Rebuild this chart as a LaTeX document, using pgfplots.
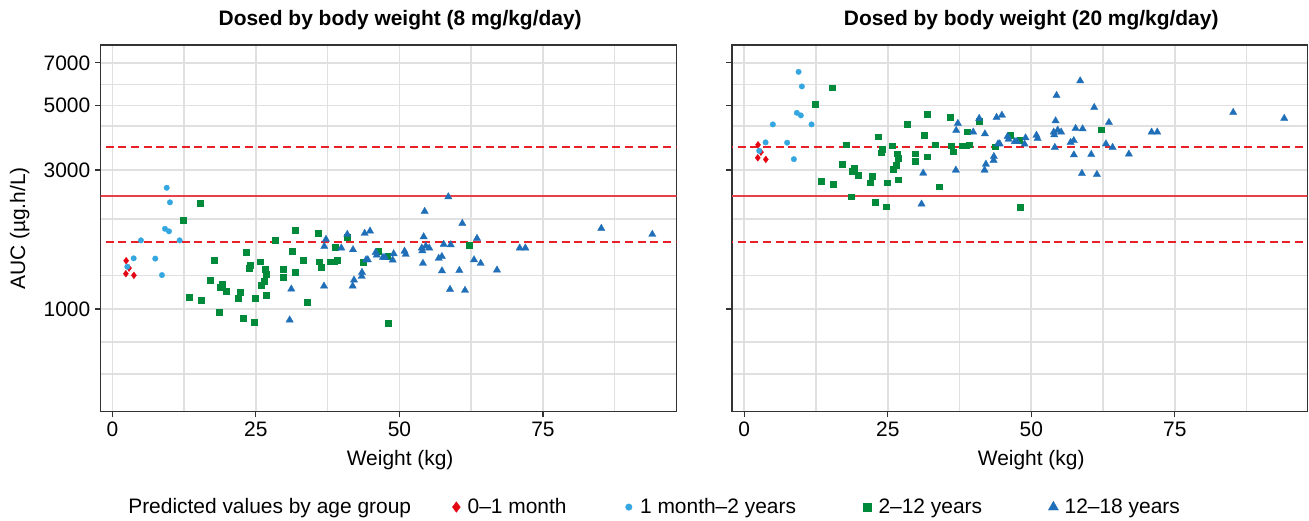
\documentclass[border=0pt]{standalone}
\usepackage{pgfplots}
\pgfplotsset{compat=1.18}
\usepackage{pgfplotstable}
\usepackage{fontspec}
\setmainfont{Liberation Sans}

\definecolor{cRed}{RGB}{227,6,19}
\definecolor{cLblue}{RGB}{53,167,224}
\definecolor{cGreen}{RGB}{0,138,58}
\definecolor{cBlue}{RGB}{31,110,184}
\definecolor{refRed}{RGB}{232,32,40}
\definecolor{refSolid}{RGB}{233,64,76}
\definecolor{gridc}{RGB}{224,224,224}
\definecolor{axc}{RGB}{51,51,51}

\pgfplotstableread{
x a b
2.40 1465 3663
2.90 1382 3455
2.35 1322 3305
3.75 1305 3263
}\tRed

\pgfplotstableread{
x a b
9.46 2608 6520
10.03 2324 5810
9.16 1886 4715
9.86 1848 4620
4.98 1721 4303
11.72 1721 4303
3.71 1493 3733
7.47 1490 3725
2.60 1397 3493
8.64 1308 3270
}\tLblue

\pgfplotstableread{
x a b
15.31 2305 5763
12.35 2016 5040
31.87 1863 4658
28.38 1721 4303
23.33 1565 3913
31.34 1578 3945
17.75 1469 3673
25.77 1456 3640
24.02 1413 3533
23.85 1379 3448
26.64 1368 3420
29.77 1368 3420
31.87 1336 3340
26.81 1319 3298
29.72 1285 3213
17.06 1255 3138
26.46 1245 3113
19.15 1216 3040
25.94 1207 3018
18.80 1187 2968
19.84 1150 2875
22.28 1141 2853
26.81 1114 2785
13.40 1097 2743
21.93 1088 2720
24.90 1088 2720
15.49 1071 2678
18.63 974 2435
22.80 929 2323
24.72 900 2250
35.87 1819 4548
40.92 1767 4418
38.83 1628 4070
46.39 1578 3945
47.96 1520 3800
33.26 1469 3673
36.04 1456 3640
37.90 1456 3640
38.70 1456 3640
39.20 1469 3673
43.71 1446 3615
36.39 1390 3475
62.18 1654 4135
33.96 1054 2635
48.07 893 2233
}\tGreen

\pgfplotstableread{
x a b
31.17 1171 2928
30.88 917 2293
58.52 2429 6073
54.40 2164 5410
60.96 1968 4920
44.88 1852 4630
43.95 1819 4548
40.92 1805 4513
54.23 1771 4428
37.21 1735 4338
63.52 1748 4370
36.92 1641 4103
39.88 1620 4050
41.92 1598 3995
57.72 1667 4168
58.94 1662 4155
53.90 1620 4050
54.60 1645 4113
55.20 1620 4050
54.00 1585 3963
45.87 1565 3913
46.05 1532 3830
44.20 1476 3690
44.50 1476 3690
47.14 1504 3760
47.50 1504 3760
49.00 1548 3870
48.83 1473 3683
50.90 1580 3950
51.10 1541 3853
56.85 1493 3733
57.40 1515 3788
54.10 1435 3588
63.00 1476 3690
64.16 1435 3588
57.42 1353 3383
60.44 1357 3393
43.48 1336 3340
43.43 1295 3238
42.09 1257 3143
41.86 1199 2998
36.86 1199 2998
58.82 1168 2920
61.43 1159 2898
67.00 1361 3403
70.96 1620 4050
71.94 1620 4050
85.17 1892 4730
94.06 1805 4513
}\tBlue

\newcommand{\fs}{\fontsize{15.7}{18}\selectfont}

\pgfplotsset{
  panel/.style={
    scale only axis, height=275pt,
    ymin=444, ymax=8058,
    xtick={0,25,50,75}, xticklabels={0,25,50,75},
    minor xtick={12.5,37.5,62.5,87.5},
    ytick={1000,3000,5000,7000},
    minor ytick={597,772,1305,2040,4245,5902},
    grid=both,
    major grid style={gridc, line width=1.2pt},
    minor grid style={gridc, line width=1.2pt},
    minor tick length=0pt,
    major tick length=4.3pt,
    tick align=outside,
    tick pos=left,
    tick style={axc, line width=0.9pt},
    axis line style={axc, line width=1.1pt},
    tick label style={font=\fs, text=black},
    xlabel={Weight (kg)},
    xlabel style={font=\fs, at={(axis description cs:0.5,-0.131)}, anchor=center, xshift=8.6pt},
    title style={font=\bfseries\fs, at={(axis description cs:0.5,1)}, anchor=center, yshift=12.75pt, xshift=8.6pt},
    clip=true,
  },
  refd/.style={draw=refRed, color=refRed, line width=1.3pt, dash pattern=on 6pt off 3.5pt, forget plot},
  refs/.style={draw=refSolid, color=refSolid, line width=1.4pt, forget plot},
  pR/.style={only marks, mark=diamond*, mark size=2.6pt, mark options={fill=cRed, draw=cRed, line width=0.2pt}, color=cRed},
  pL/.style={only marks, mark=*, mark size=2.1pt, mark options={fill=cLblue, draw=cLblue, line width=0.2pt}, color=cLblue},
  pG/.style={only marks, mark=square*, mark size=2.1pt, mark options={fill=cGreen, draw=cGreen, line width=0.2pt}, color=cGreen},
  pB/.style={only marks, mark=triangle*, mark size=3.2pt, mark options={fill=cBlue, draw=cBlue, line width=0.2pt}, color=cBlue},
}

\begin{document}
\begin{tikzpicture}
\path[use as bounding box] (-75.5pt,-81.2pt) rectangle (906.2pt,308.8pt);
\begin{axis}[ymode=log, panel, at={(0pt,0pt)}, width=432pt, xmin=-2.04, xmax=98.31,
  title={Dosed by body weight (8 mg/kg/day)},
  yticklabels={1000,3000,5000,7000},
  ylabel={AUC (µg.h/L)},
  ylabel style={font=\fs, at={(axis description cs:-0.1405,0.5)}, anchor=center},
  legend columns=5,
  legend image code/.code={\path (-4pt,0pt) (4pt,0pt); \draw[#1] plot coordinates {(0pt,0pt)};},
  legend style={at={(axis description cs:0.0475,-0.26)}, anchor=west, draw=none, fill=none,
    inner sep=0pt, font=\fs, column sep=4.25pt, nodes={inner xsep=0pt},
    /tikz/column 1/.style={column sep=0pt},
    /tikz/column 2/.style={column sep=29.75pt},
    /tikz/column 4/.style={column sep=42.5pt},
    /tikz/column 6/.style={column sep=49.25pt},
    /tikz/column 8/.style={column sep=49.25pt}},
]
\addlegendimage{empty legend}
\addlegendentry{Predicted values by age group}
\addlegendimage{only marks, mark=diamond*, mark size=4pt, mark options={fill=cRed, draw=cRed, line width=0.2pt}}
\addlegendentry{0–1 month}
\addlegendimage{only marks, mark=*, mark size=2.5pt, mark options={fill=cLblue, draw=cLblue, line width=0.2pt}}
\addlegendentry{1 month–2 years}
\addlegendimage{only marks, mark=square*, mark size=3.1pt, mark options={fill=cGreen, draw=cGreen, line width=0.2pt}}
\addlegendentry{2–12 years}
\addlegendimage{only marks, mark=triangle*, mark size=4.4pt, mark options={fill=cBlue, draw=cBlue, line width=0.2pt}}
\addlegendentry{12–18 years}
\addplot[refd] coordinates {(-10,3590) (110,3590)};
\addplot[refd] coordinates {(-10,1695) (110,1695)};
\addplot[refs] coordinates {(-10,2450) (110,2450)};
\addplot[pR, forget plot] table[x=x,y=a] {\tRed};
\addplot[pL, forget plot] table[x=x,y=a] {\tLblue};
\addplot[pG, forget plot] table[x=x,y=a] {\tGreen};
\addplot[pB, forget plot] table[x=x,y=a] {\tBlue};
\end{axis}
\begin{axis}[ymode=log, panel, at={(473.5pt,0pt)}, width=431.5pt, xmin=-2.13, xmax=98.1,
  title={Dosed by body weight (20 mg/kg/day)},
  yticklabels={},
]
\addplot[refd] coordinates {(-10,3590) (110,3590)};
\addplot[refd] coordinates {(-10,1695) (110,1695)};
\addplot[refs] coordinates {(-10,2450) (110,2450)};
\addplot[pR] table[x=x,y=b] {\tRed};
\addplot[pL] table[x=x,y=b] {\tLblue};
\addplot[pG] table[x=x,y=b] {\tGreen};
\addplot[pB] table[x=x,y=b] {\tBlue};
\end{axis}
\end{tikzpicture}
\end{document}
